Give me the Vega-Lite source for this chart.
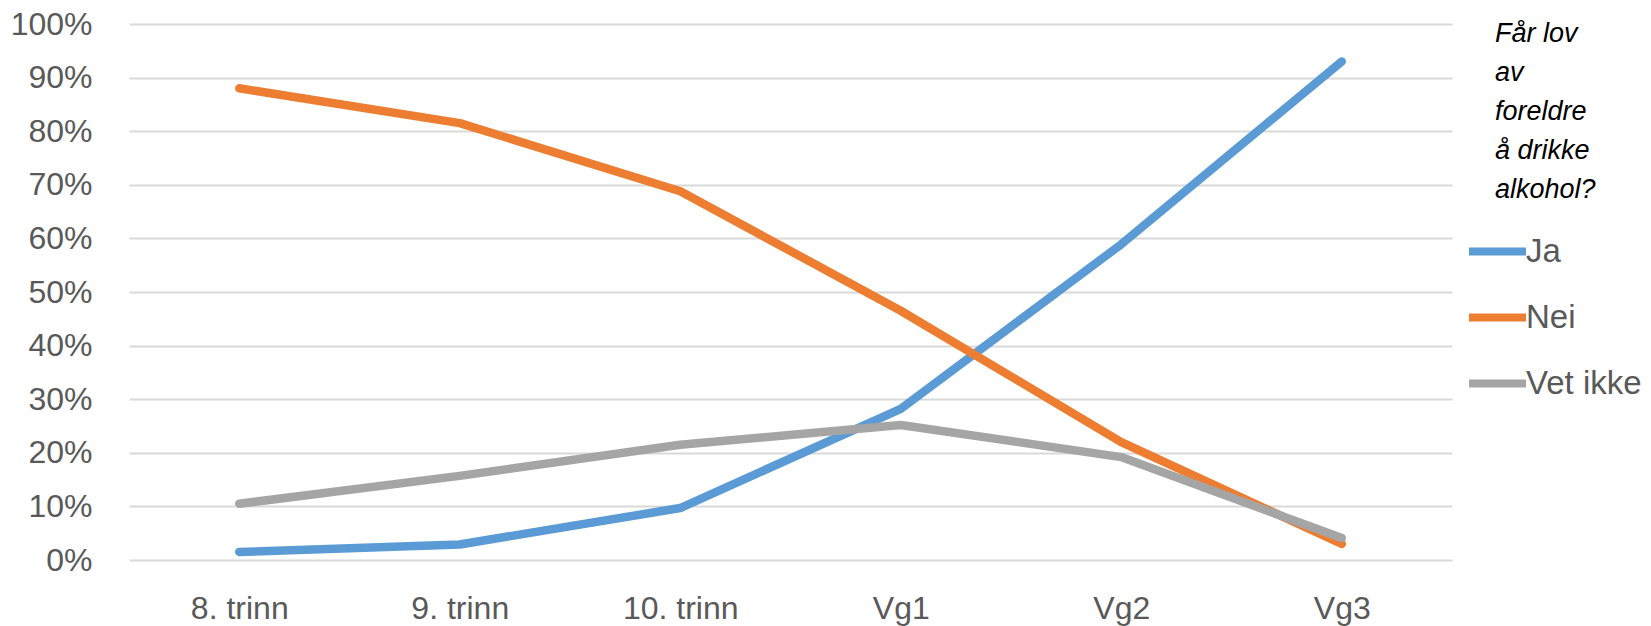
{
  "$schema": "https://vega.github.io/schema/vega-lite/v6.json",
  "width": 1323,
  "height": 536,
  "autosize": {"type": "none"},
  "padding": {"left": 129, "top": 24, "right": 199, "bottom": 66},
  "background": "white",
  "config": {
    "view": {"stroke": null},
    "font": "Liberation Sans"
  },
  "data": {
    "values": [
      {"trinn": "8. trinn", "svar": "Ja", "andel": 0.015},
      {"trinn": "9. trinn", "svar": "Ja", "andel": 0.029},
      {"trinn": "10. trinn", "svar": "Ja", "andel": 0.097},
      {"trinn": "Vg1", "svar": "Ja", "andel": 0.282},
      {"trinn": "Vg2", "svar": "Ja", "andel": 0.589},
      {"trinn": "Vg3", "svar": "Ja", "andel": 0.930},
      {"trinn": "8. trinn", "svar": "Nei", "andel": 0.880},
      {"trinn": "9. trinn", "svar": "Nei", "andel": 0.815},
      {"trinn": "10. trinn", "svar": "Nei", "andel": 0.688},
      {"trinn": "Vg1", "svar": "Nei", "andel": 0.465},
      {"trinn": "Vg2", "svar": "Nei", "andel": 0.220},
      {"trinn": "Vg3", "svar": "Nei", "andel": 0.030},
      {"trinn": "8. trinn", "svar": "Vet ikke", "andel": 0.105},
      {"trinn": "9. trinn", "svar": "Vet ikke", "andel": 0.157},
      {"trinn": "10. trinn", "svar": "Vet ikke", "andel": 0.215},
      {"trinn": "Vg1", "svar": "Vet ikke", "andel": 0.252},
      {"trinn": "Vg2", "svar": "Vet ikke", "andel": 0.192},
      {"trinn": "Vg3", "svar": "Vet ikke", "andel": 0.041}
    ]
  },
  "mark": {"type": "line", "strokeWidth": 8.5, "strokeCap": "round", "strokeJoin": "round"},
  "encoding": {
    "x": {
      "field": "trinn",
      "type": "ordinal",
      "sort": null,
      "scale": {"type": "point", "padding": 0.5},
      "axis": {
        "title": null,
        "domain": false,
        "ticks": false,
        "grid": false,
        "labelAngle": 0,
        "labelFontSize": 32,
        "labelColor": "#595959",
        "labelPadding": 33
      }
    },
    "y": {
      "field": "andel",
      "type": "quantitative",
      "scale": {"domain": [0, 1], "nice": false},
      "axis": {
        "title": null,
        "format": ".0%",
        "values": [0, 0.1, 0.2, 0.3, 0.4, 0.5, 0.6, 0.7, 0.8, 0.9, 1],
        "domain": false,
        "ticks": false,
        "grid": true,
        "gridColor": "#d9d9d9",
        "gridWidth": 2,
        "labelFontSize": 32,
        "labelColor": "#595959",
        "labelPadding": 37
      }
    },
    "color": {
      "field": "svar",
      "type": "nominal",
      "scale": {"domain": ["Ja", "Nei", "Vet ikke"], "range": ["#5B9BD5", "#ED7D31", "#A5A5A5"]},
      "legend": {
        "orient": "none",
        "legendX": 1366,
        "legendY": -3,
        "padding": 0,
        "title": ["Får lov", "av", "foreldre", "å drikke", "alkohol?"],
        "titleFont": "Liberation Sans",
        "titleFontStyle": "italic",
        "titleFontWeight": "normal",
        "titleFontSize": 27,
        "titleLineHeight": 39,
        "titleColor": "#000000",
        "titlePadding": 15,
        "symbolType": "stroke",
        "symbolStrokeWidth": 8,
        "symbolSize": 3249,
        "symbolOffset": -30,
        "labelOffset": -4,
        "labelFontSize": 33,
        "labelColor": "#595959",
        "rowPadding": 16
      }
    }
  }
}
